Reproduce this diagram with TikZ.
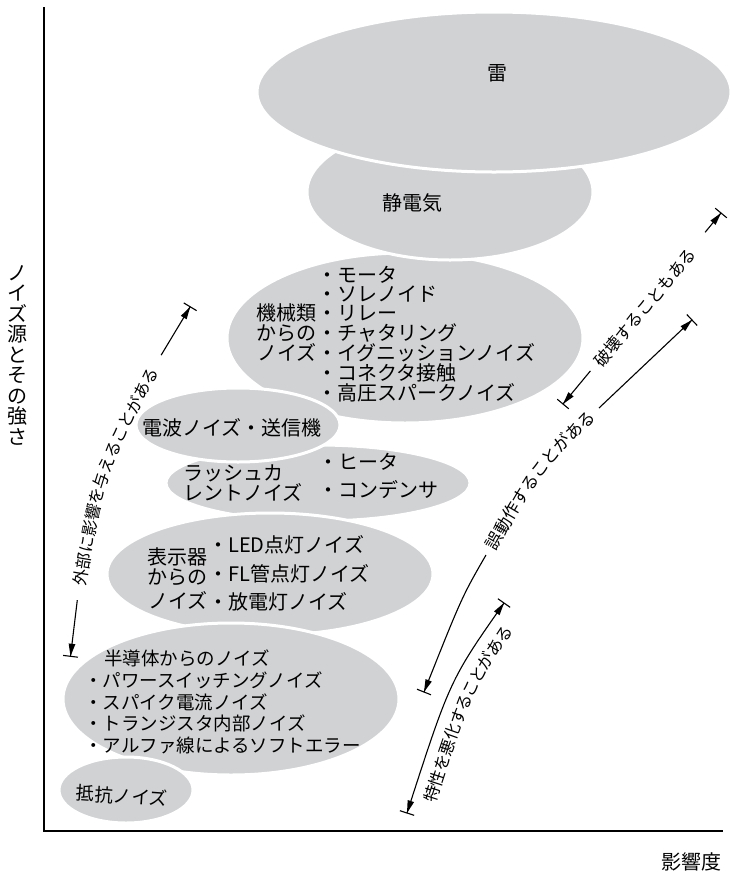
\documentclass[tikz,border=0pt]{standalone}
\usepackage{fontspec}
\setmainfont{Noto Sans CJK JP}
\usetikzlibrary{calc,decorations.text}
\definecolor{blobgray}{RGB}{209,210,212}
% arrow head (filled triangle) with its tip at #2, pointing from #1 to #2
\newcommand\myhead[2]{%
  \coordinate (hdA) at ($(#2)!13pt!15:(#1)$);
  \coordinate (hdB) at ($(#2)!13pt!-15:(#1)$);
  \fill[black] (#2) -- (hdA) -- (hdB) -- cycle;}
% end bar across the line at #2
\newcommand\mybar[2]{%
  \coordinate (brA) at ($(#2)!7.5pt!90:(#1)$);
  \coordinate (brB) at ($(#2)!7.5pt!-90:(#1)$);
  \draw[rng] (brA) -- (brB);}
\begin{document}
\begin{tikzpicture}[x=1pt,y=-1pt,
  blob/.style={fill=blobgray,draw=white,line width=3pt},
  lbl/.style={inner sep=0pt,font=\fontsize{20}{20}\selectfont,text height=17.6pt,text depth=2.4pt},
  lblsm/.style={inner sep=0pt,font=\fontsize{18.5}{18.5}\selectfont,text height=16.3pt,text depth=2.2pt},
  lblarr/.style={inner sep=0pt,font=\fontsize{16.5}{16.5}\selectfont,text height=14.5pt,text depth=2pt},
  rng/.style={line width=1.1pt},
  axisline/.style={line width=1.3pt}
]
\useasboundingbox (0,0) rectangle (731,876);

% ---- noise source blobs, back to front ----
\path[blob] (405,338) ellipse [x radius=178pt,y radius=85pt];
\path[blob] (450,192) ellipse [x radius=143pt,y radius=68pt];
\path[blob] (494,92) ellipse [x radius=237pt,y radius=80pt];
\path[blob] (318,483) ellipse [x radius=152pt,y radius=38pt];
\path[blob] (238,425) ellipse [x radius=102pt,y radius=37pt];
\path[blob] (270,574) ellipse [x radius=163pt,y radius=61pt];
\path[blob] (231,699) ellipse [x radius=168pt,y radius=76pt];
\path[blob] (126,790) ellipse [x radius=67pt,y radius=33pt];

% ---- texts ----
\node[lbl] (kaminari) at (497,73) {雷};
\node[lbl] (seiden) at (412,203) {静電気};

\node[lbl,anchor=west] (k1) at (317,275) {・モータ};
\node[lbl,anchor=west] (k2) at (317,294) {・ソレノイド};
\node[lbl,anchor=west] (k3) at (317,313) {・リレー};
\node[lbl,anchor=west] (k4) at (317,333) {・チャタリング};
\node[lbl,anchor=west] (k5) at (317,353) {・イグニッションノイズ};
\node[lbl,anchor=west] (k6) at (317,373) {・コネクタ接触};
\node[lbl,anchor=west] (k7) at (317,393) {・高圧スパークノイズ};
\node[lbl,anchor=east] (kl1) at (317,313) {機械類};
\node[lbl,anchor=east] (kl2) at (317,333) {からの};
\node[lbl,anchor=east] (kl3) at (317,353) {ノイズ};

\node[lbl,anchor=west] (denpa) at (142,428) {電波ノイズ・送信機};

\node[lbl,anchor=west] (r1) at (183,473) {ラッシュカ};
\node[lbl,anchor=west] (r2) at (183,493) {レントノイズ};
\node[lbl,anchor=west] (r3) at (318,462) {・ヒータ};
\node[lbl,anchor=west] (r4) at (318,490) {・コンデンサ};

\node[lbl,anchor=east] (h1) at (208,557) {表示器};
\node[lbl,anchor=east] (h2) at (208,577) {からの};
\node[lbl,anchor=east] (h3) at (208,601) {ノイズ};
\node[lbl,anchor=west] (h4) at (208,545) {・LED点灯ノイズ};
\node[lbl,anchor=west] (h5) at (208,574) {・FL管点灯ノイズ};
\node[lbl,anchor=west] (h6) at (208,602) {・放電灯ノイズ};

\node[lblsm,anchor=west] (s1) at (104,658) {半導体からのノイズ};
\node[lblsm,anchor=west] (s2) at (84,680) {・パワースイッチングノイズ};
\node[lblsm,anchor=west] (s3) at (84,702) {・スパイク電流ノイズ};
\node[lblsm,anchor=west] (s4) at (84,723) {・トランジスタ内部ノイズ};
\node[lblsm,anchor=west] (s5) at (84,745) {・アルファ線によるソフトエラー};

\node[lblsm,rotate=-4] (teikou) at (122,796) {抵抗ノイズ};

% ---- axes ----
\coordinate (ytop) at (44,7);
\coordinate (orig) at (44,831);
\coordinate (xend) at (723,831);
\draw[axisline] (ytop) -- (orig) -- (xend);
\node[inner sep=0pt,font=\fontsize{20}{20.5}\selectfont,align=center] (ylab) at (18,355)
  {ノ\\イ\\ズ\\源\\と\\そ\\の\\強\\さ};
\node[lbl] (xlab) at (691,862) {影響度};

% ---- range: 外部に影響を与えることがある ----
\coordinate (ga0) at (70.5,656.3);
\coordinate (ga1) at (77.3,600.2);
\coordinate (gt0) at (78.4,593.1);
\coordinate (gtc) at (99.0,470.8);
\coordinate (gt1) at (157.7,361.6);
\coordinate (gb0) at (161.1,355.2);
\coordinate (gb1) at (190.2,306.8);
\draw[rng] (ga1) -- (ga0);
\draw[rng] (gb0) -- (gb1);
\myhead{ga1}{ga0}\mybar{ga1}{ga0}
\myhead{gb0}{gb1}\mybar{gb0}{gb1}
\path[decorate,decoration={text along path,
  text={|\fontsize{16.5}{16.5}\selectfont|外部に影響を与えることがある},
  text align=center,raise=-6.3pt}] (gt0) .. controls (gtc) .. (gt1);

% ---- range: 誤動作することがある ----
\coordinate (ea0) at (424,692);
\coordinate (ea1) at (486,555);
\coordinate (eac) at (461.8,597);
\coordinate (et0) at (489,550);
\coordinate (etc) at (537.3,466.4);
\coordinate (et1) at (594,412);
\coordinate (eb0) at (599,408);
\coordinate (eb1) at (692,320);
\draw[rng] (ea1) .. controls (eac) .. (ea0);
\draw[rng] (eb0) -- (eb1);
\myhead{eac}{ea0}\mybar{eac}{ea0}
\myhead{eb0}{eb1}\mybar{eb0}{eb1}
\path[decorate,decoration={text along path,
  text={|\fontsize{17}{17}\selectfont|誤動作することがある},
  text align=center,raise=-6.5pt}] (et0) .. controls (etc) .. (et1);

% ---- range: 破壊することもある ----
\coordinate (ha0) at (563,404);
\coordinate (ha1) at (590.4,370.9);
\coordinate (hb0) at (705.1,232.3);
\coordinate (hb1) at (721,213);
\draw[rng] (ha1) -- (ha0);
\draw[rng] (hb0) -- (hb1);
\myhead{ha1}{ha0}\mybar{ha1}{ha0}
\myhead{hb0}{hb1}\mybar{hb0}{hb1}
\node[lblarr,rotate=50] (hakai) at (645,307.5) {破壊することもある};

% ---- range: 特性を悪化することがある ----
\coordinate (ta0) at (407,813);
\coordinate (tac) at (450,680);
\coordinate (ta1) at (504,603);
\draw[rng] (ta0) .. controls (tac) .. (ta1);
\myhead{tac}{ta0}\mybar{tac}{ta0}
\myhead{tac}{ta1}\mybar{tac}{ta1}
\path[decorate,decoration={text along path,
  text={|\fontsize{16.5}{16.5}\selectfont|特性を悪化することがある},
  text align=center,raise=-24pt}] (ta0) .. controls (tac) .. (ta1);
\end{tikzpicture}
\end{document}
